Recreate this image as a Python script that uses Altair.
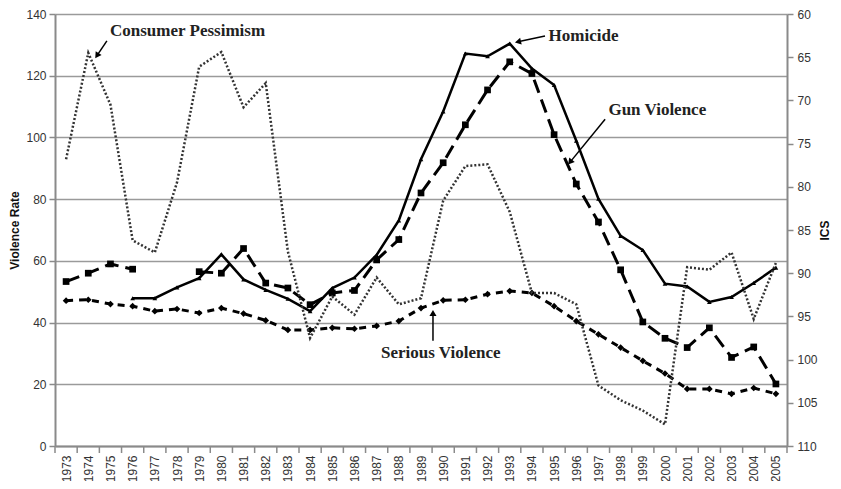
import altair as alt
import pandas as pd

years = list(range(1973, 2006))
homicide = [None, None, None, 47.9, 47.9, 51.4, 54.4, 62.1, 54.0, 50.6,
            47.7, 43.7, 51.2, 54.6, 61.9, 73.1, 92.9, 108.4, 127.2, 126.3,
            130.4, 122.3, 117.0, 98.9, 80.1, 68.1, 63.5, 52.6, 51.7, 46.7,
            48.3, 52.8, 57.8]
gun = [53.3, 56.0, 59.0, 57.3, None, None, 56.5, 56.0, 64.0, 52.8,
       51.2, 45.8, 49.6, 50.4, 60.3, 66.9, 82.0, 91.8, 104.1, 115.4,
       124.5, 120.7, 100.9, 84.9, 72.6, 57.1, 40.2, 34.9, 31.9, 38.3,
       28.7, 32.1, 20.1]
serious = [47.1, 47.4, 46.0, 45.3, 43.7, 44.4, 43.1, 44.7, 42.9, 40.7,
           37.6, 37.6, 38.3, 38.0, 38.9, 40.5, 44.7, 47.2, 47.4, 49.2,
           50.2, 49.6, 45.3, 40.5, 36.2, 31.9, 27.6, 23.5, 18.5, 18.5,
           16.9, 18.8, 16.9]
ics = [76.8, 64.5, 70.5, 86.2, 87.6, 79.5, 66.1, 64.4, 70.8, 68.0,
       87.5, 97.5, 92.7, 94.8, 90.5, 93.6, 92.9, 81.6, 77.6, 77.4,
       82.9, 92.3, 92.3, 93.6, 103.0, 104.7, 105.9, 107.5, 89.3, 89.6,
       87.6, 95.3, 88.8]

left_ticks = [0, 20, 40, 60, 80, 100, 120, 140]
right_ticks = [60, 65, 70, 75, 80, 85, 90, 95, 100, 105, 110]

# annotation labels (data coordinates, left axis)
ann_text = ["Consumer Pessimism", "Homicide", "Gun Violence", "Serious Violence"]
ann_x = [1974.98, 1994.75, 1997.45, 1987.2]
ann_y = [134.5, 132.9, 108.8, 30.3]
# arrows
arr_x = [1974.84, 1994.59, 1997.30, 1989.54]
arr_y = [131.3, 132.9, 105.9, 34.1]
arr_x2 = [1974.39, 1993.37, 1995.72, 1989.54]
arr_y2 = [126.5, 131.0, 92.0, 43.1]
arr_angle = [214, 257, 219, 0]

def series_df(vals, name):
    rows = []
    for i, (yr, v) in enumerate(zip(years, vals)):
        if v is None:
            continue
        seg = "a" if (name == "gun" and i < 4) else "b"
        rows.append({"year": yr, "value": v, "seg": seg})
    return pd.DataFrame(rows)

df_h = series_df(homicide, "hom")
df_g = series_df(gun, "gun")
df_s = series_df(serious, "ser")
df_i = pd.DataFrame({"year": years, "ics": ics})
df_ann = pd.DataFrame({"t": ann_text, "year": ann_x, "value": ann_y})
df_arr = pd.DataFrame({"year": arr_x, "value": arr_y, "x2": arr_x2, "y2": arr_y2, "ang": arr_angle})
tick_pos = [y - 0.5 for y in years] + [years[-1] + 0.5]
df_ticks = pd.DataFrame({"year": tick_pos})

FONT = "Liberation Sans"
xscale = alt.Scale(domain=[1972.5, 2005.5], nice=False, zero=False)
xaxis = alt.Axis(values=years, format="d", labelAngle=-90, labelAlign="right",
                 labelBaseline="middle", ticks=False, grid=False,
                 domainColor="#8a8a8a", domainWidth=2, labelColor="#333333",
                 labelFontSize=12, labelFont=FONT, labelPadding=9, title=None,
                 labelOverlap=False)
X = alt.X("year:Q", scale=xscale, axis=xaxis)
lscale = alt.Scale(domain=[0, 140], nice=False, zero=True)
laxis = alt.Axis(values=left_ticks, grid=True, gridColor="#9a9a9a", gridWidth=1.5,
                 domainColor="#8a8a8a", domainWidth=2, tickColor="#8a8a8a", tickSize=6,
                 tickWidth=1.5, labelColor="#333333", labelFontSize=12, labelFont=FONT,
                 labelPadding=3, title="Violence Rate", titleFont=FONT, titleFontSize=12,
                 titleFontWeight="bold", titleColor="#111111", titlePadding=4)
YL = alt.Y("value:Q", scale=lscale, axis=laxis)

hom_line = alt.Chart(df_h).mark_line(color="black", strokeWidth=2.5).encode(x=X, y=YL)
hom_pts = alt.Chart(df_h).mark_point(shape="triangle-up", filled=True, size=22,
                                     color="black", opacity=1).encode(x=X, y=YL)
gun_line = alt.Chart(df_g).mark_line(color="black", strokeWidth=3,
                                     strokeDash=[14, 7]).encode(x=X, y=YL, detail="seg:N")
gun_pts = alt.Chart(df_g).mark_point(shape="square", filled=True, size=45,
                                     color="black", opacity=1).encode(x=X, y=YL)
ser_line = alt.Chart(df_s).mark_line(color="black", strokeWidth=3,
                                     strokeDash=[7, 6]).encode(x=X, y=YL)
ser_pts = alt.Chart(df_s).mark_point(shape="diamond", filled=True, size=45,
                                     color="black", opacity=1).encode(x=X, y=YL)

xticks = alt.Chart(df_ticks).mark_rule(color="#8a8a8a", strokeWidth=1.5).encode(
    x=X, y=alt.value(432), y2=alt.value(439))

ann = alt.Chart(df_ann).mark_text(align="left", baseline="middle", font="Liberation Serif",
                                  fontWeight="bold", fontSize=17, color="#222222").encode(
    x=X, y=YL, text="t:N")
arrows = alt.Chart(df_arr).mark_rule(color="black", strokeWidth=1.5).encode(
    x=X, y=YL, x2="x2:Q", y2="y2:Q")
heads = alt.Chart(df_arr).mark_point(shape="triangle-up", filled=True, size=50,
                                     color="black", opacity=1).encode(
    x=alt.X("x2:Q", scale=xscale, axis=xaxis), y=alt.Y("y2:Q", scale=lscale, axis=laxis),
    angle=alt.Angle("ang:Q", scale=None))

left = alt.layer(hom_line, gun_line, ser_line, hom_pts, gun_pts, ser_pts,
                 xticks, ann, arrows, heads)

raxis = alt.Axis(orient="right", values=right_ticks, grid=False, domainColor="#8a8a8a",
                 domainWidth=2, tickColor="#8a8a8a", tickSize=6, tickWidth=1.5,
                 labelColor="#333333", labelFontSize=12, labelFont=FONT, labelPadding=4,
                 title="ICS", titleFont=FONT, titleFontSize=12, titleFontWeight="bold",
                 titleColor="#111111", titleAngle=270, titlePadding=14)
right = alt.Chart(df_i).mark_line(color="#333333", strokeWidth=2.5,
                                  strokeDash=[2, 2]).encode(
    x=X,
    y=alt.Y("ics:Q", scale=alt.Scale(domain=[60, 110], reverse=True, nice=False, zero=False),
            axis=raxis))

chart = alt.layer(left, right).resolve_scale(y="independent").properties(
    width=732, height=432,
    autosize=alt.AutoSizeParams(type="none"),
    padding={"left": 47, "top": 6, "right": 46, "bottom": 35},
    background="white",
).configure_view(stroke=None)

chart.save("out.html", embed_options={"renderer": "svg", "actions": False})
